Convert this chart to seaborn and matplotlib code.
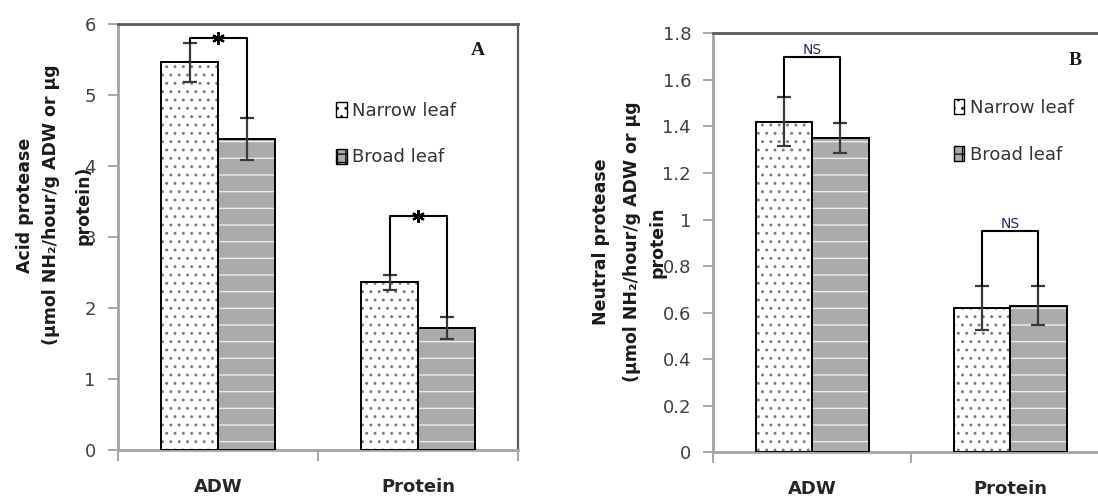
import matplotlib
matplotlib.use("Agg")
import matplotlib.pyplot as plt
import seaborn as sns
import pandas as pd
from matplotlib.patches import Patch, Rectangle

# categories
groups = ["ADW", "Protein"]
leaf_types = ["Narrow leaf", "Broad leaf"]

# panel A - acid protease
acid_narrow = [5.46, 2.36]
acid_broad = [4.38, 1.72]
acid_narrow_err = [0.27, 0.10]
acid_broad_err = [0.29, 0.15]
acid_bracket = [5.81, 3.29]
acid_marks = ["*", "*"]

# panel B - neutral protease
neut_narrow = [1.42, 0.62]
neut_broad = [1.35, 0.63]
neut_narrow_err = [0.105, 0.093]
neut_broad_err = [0.063, 0.084]
neut_bracket = [1.70, 0.95]
neut_marks = ["NS", "NS"]

acid_ticks = [0, 1, 2, 3, 4, 5, 6]
neut_ticks = [0, 0.2, 0.4, 0.6, 0.8, 1.0, 1.2, 1.4, 1.6, 1.8]

ylabel_a = ["Acid protease", "(µmol NH₂/hour/g ADW or µg", "protein)"]
ylabel_b = ["Neutral protease", "(µmol NH₂/hour/g ADW or µg", "protein"]

sns.set_theme(style="white")
plt.rcParams['font.family'] = ['DejaVu Sans']
plt.rcParams['hatch.linewidth'] = 0.9

face = {"Narrow leaf": "white", "Broad leaf": "#ababab"}
hatch = {"Narrow leaf": "..", "Broad leaf": "-"}
hatch_col = {"Narrow leaf": "#7a7a7a", "Broad leaf": "#f2f2f2"}


def panel(ax, narrow, broad, n_err, b_err, brackets, marks, ticks, letter,
          leg_xy):
    df = pd.DataFrame({
        "group": groups * 2,
        "leaf": [leaf_types[0]] * 2 + [leaf_types[1]] * 2,
        "value": narrow + broad,
    })
    sns.barplot(data=df, x="group", y="value", hue="leaf", order=groups,
                hue_order=leaf_types, width=0.57, errorbar=None,
                legend=False, ax=ax, saturation=1,
                palette=[face[k] for k in leaf_types], linewidth=0)

    centers = []
    tops = []
    for cont, leaf, errs in zip(ax.containers, leaf_types, [n_err, b_err]):
        cx = []
        ct = []
        for bar, e in zip(cont, errs):
            bar.set_hatch(hatch[leaf])
            bar.set_edgecolor(hatch_col[leaf])
            ax.add_patch(Rectangle(bar.get_xy(), bar.get_width(),
                                   bar.get_height(), fill=False,
                                   ec="black", lw=1.4, zorder=3))
            x = bar.get_x() + bar.get_width() / 2
            h = bar.get_height()
            ax.errorbar(x, h, yerr=e, fmt="none", ecolor="#3a3a3a",
                        elinewidth=1.6, capsize=5, capthick=1.6, zorder=4)
            cx.append(x)
            ct.append(h + e)
        centers.append(cx)
        tops.append(ct)

    # significance brackets
    for i, (yb, m) in enumerate(zip(brackets, marks)):
        x0, x1 = centers[0][i], centers[1][i]
        ax.plot([x0, x0, x1, x1], [tops[0][i], yb, yb, tops[1][i]],
                color="black", lw=1.5, zorder=5)
        if m == "*":
            ax.plot((x0 + x1) / 2, yb, marker=(6, 2, 0), ms=9, mew=1.6,
                    color="black", zorder=6)
        else:
            ax.text((x0 + x1) / 2, yb, m, ha="center", va="bottom",
                    fontsize=10, color="#26265a", zorder=6)

    ax.set_ylim(ticks[0], ticks[-1])
    ax.set_yticks(ticks)
    ax.set_yticklabels([f"{t:g}" for t in ticks])
    ax.set_xlim(-0.5, 1.5)
    ax.set_xticks([-0.5, 0.5, 1.5], minor=True)
    ax.set_xticks([0, 1])
    ax.set_xticklabels(groups, fontweight="bold")
    ax.set_xlabel("")
    ax.set_ylabel("")
    ax.tick_params(axis="y", left=True, direction="out", length=7, width=1.2,
                   color="#9a9a9a", labelsize=13, labelcolor="#404040", pad=9)
    ax.tick_params(axis="x", which="major", bottom=False, length=0,
                   labelsize=13, labelcolor="#262626", pad=20)
    ax.tick_params(axis="x", which="minor", bottom=True, direction="out",
                   length=8, width=1.2, color="#9a9a9a")
    for s in ["left", "bottom"]:
        ax.spines[s].set_color("#a3a3a3")
        ax.spines[s].set_linewidth(2)
    ax.spines["top"].set_color("#5a5a5a")
    ax.spines["top"].set_linewidth(2)
    ax.spines["right"].set_color("#5a5a5a")
    ax.spines["right"].set_linewidth(1.6)

    handles = [Patch(facecolor=face[k], edgecolor="black",
                     hatch=hatch[k] if k == leaf_types[0] else "++",
                     lw=1) for k in leaf_types]
    ax.legend(handles, leaf_types, loc="upper left", bbox_to_anchor=leg_xy,
              frameon=False, fontsize=13, handlelength=0.6, handleheight=0.9,
              handletextpad=0.3, labelspacing=1.6, borderpad=0,
              borderaxespad=0, labelcolor="#333333")
    ax.text(letter[1], letter[2], letter[0], transform=ax.transAxes,
            ha="center", va="center", fontsize=14, fontweight="bold",
            family="Liberation Serif", color="#1a1a1a")


fig = plt.figure(figsize=(10.98, 4.97), dpi=100)
ax_a = fig.add_axes([0.1075, 0.0946, 0.3643, 0.857])
ax_b = fig.add_axes([0.6496, 0.0899, 0.3606, 0.843])

panel(ax_a, acid_narrow, acid_broad, acid_narrow_err, acid_broad_err,
      acid_bracket, acid_marks, acid_ticks, ("A", 0.9, 0.939),
      (0.545, 0.818))
panel(ax_b, neut_narrow, neut_broad, neut_narrow_err, neut_broad_err,
      neut_bracket, neut_marks, neut_ticks, ("B", 0.913, 0.936),
      (0.607, 0.843))

# multi-line y labels
for txt, xp in zip(ylabel_a, [25, 51, 83]):
    fig.text(xp / 1098, 1 - 205 / 497, txt, rotation=90, ha="center",
             va="center", fontsize=12.5, fontweight="bold", color="#1a1a1a")
for txt, xp in zip(ylabel_b, [601, 632, 657]):
    fig.text(xp / 1098, 1 - 242 / 497, txt, rotation=90, ha="center",
             va="center", fontsize=12.5, fontweight="bold", color="#1a1a1a")

fig.savefig("out.png", dpi=100)
